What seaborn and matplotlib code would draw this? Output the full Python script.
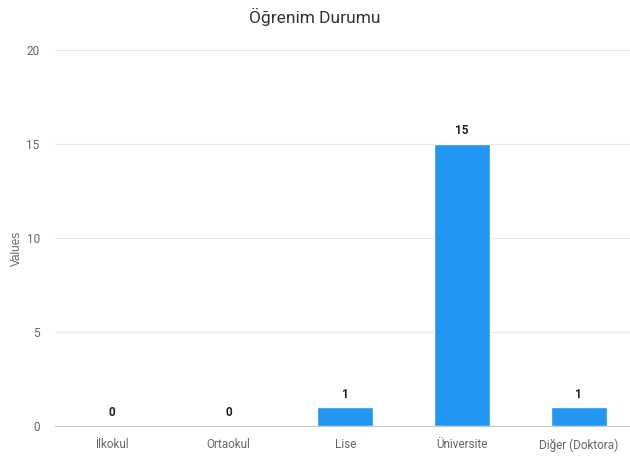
import pandas as pd
import matplotlib
matplotlib.use("Agg")
import matplotlib.pyplot as plt
import seaborn as sns

# Data
categories = ["İlkokul", "Ortaokul", "Lise", "Üniversite", "Diğer (Doktora)"]
values = [0, 0, 1, 15, 1]
y_ticks = [0, 5, 10, 15, 20]

df = pd.DataFrame({"category": categories, "value": values})

sns.set_style("white")
plt.rcParams["font.family"] = ["Roboto", "DejaVu Sans"]

fig = plt.figure(figsize=(6.3, 4.58), dpi=100)
ax = fig.add_axes([55 / 630, 1 - 426 / 458, 1 - 55 / 630, (426 - 50) / 458])

sns.barplot(data=df, x="category", y="value", color="#2196F3", width=0.48,
            saturation=1, ax=ax, zorder=3)

# value labels
for i, v in enumerate(values):
    ax.text(i, v + 0.35, str(v), ha="center", va="bottom", fontsize=8.5,
            fontweight="bold", color="#222222")

ax.set_xlim(-0.49, 4.44)
ax.set_ylim(0, 20)
ax.set_yticks(y_ticks)
ax.yaxis.grid(True, color="#e6e6e6", linewidth=0.8, zorder=0)
for s in ["top", "right", "left"]:
    ax.spines[s].set_visible(False)
ax.spines["bottom"].set_color("#c8c8c8")
ax.spines["bottom"].set_linewidth(0.8)
ax.tick_params(axis="both", length=0, labelsize=8.5, colors="#666666")
ax.tick_params(axis="y", pad=11)
ax.tick_params(axis="x", pad=9)

ax.set_xlabel("")
ax.set_ylabel("")
fig.text(17 / 630, 1 - 248 / 458, "Values", rotation=90, ha="center", va="center",
         fontsize=8.5, color="#666666", family=["Liberation Sans", "DejaVu Sans"])
fig.text(0.5, 1 - 17 / 458, "Öğrenim Durumu", ha="center", va="center",
         fontsize=12.5, color="#333333")

fig.savefig("out.png", dpi=100)
